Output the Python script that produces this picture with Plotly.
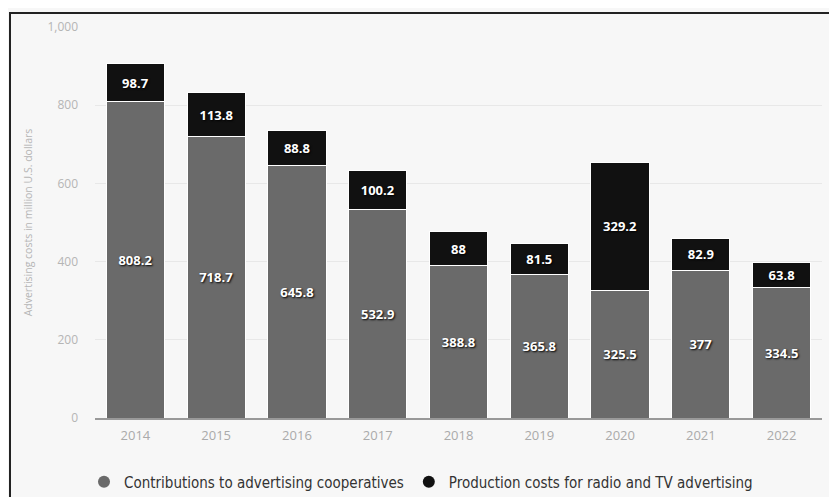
import plotly.graph_objects as go

years = ["2014", "2015", "2016", "2017", "2018", "2019", "2020", "2021", "2022"]
contributions = [808.2, 718.7, 645.8, 532.9, 388.8, 365.8, 325.5, 377, 334.5]
production = [98.7, 113.8, 88.8, 100.2, 88, 81.5, 329.2, 82.9, 63.8]
series_names = ["Contributions to advertising cooperatives", "Production costs for radio and TV advertising"]
y_ticks = [0, 200, 400, 600, 800, 1000]
y_tick_labels = ["0", "200", "400", "600", "800", "1,000"]

GRAY = "#6a6a6a"
BLACK = "#111111"

# page body has an 8px margin; figure sized to fill the rest of the window
OFF = 8
W, H = 837 - OFF, 497 - OFF
L, R, T, B = 95 - OFF, 15, 27 - OFF, 79
pw, ph = W - L - R, H - T - B


def px_x(wx):
    return (wx - OFF - L) / pw


def px_y(wy):
    return (H - B - (wy - OFF)) / ph


label_font = dict(color="white", size=13, family="Open Sans", weight="bold",
                  shadow="1px 1px 2px #000")

fig = go.Figure()
for name, vals, col in [(series_names[0], contributions, GRAY), (series_names[1], production, BLACK)]:
    fig.add_trace(go.Bar(
        x=years, y=vals, name=name, marker=dict(color=col, line=dict(color="white", width=1)),
        text=[f"{v:g}" for v in vals], textposition="inside", insidetextanchor="middle",
        textangle=0, textfont=label_font, constraintext="none", showlegend=False,
        hoverinfo="skip"))
    fig.add_trace(go.Scatter(
        x=[None], y=[None], mode="markers", name=name,
        marker=dict(color=col, size=12, symbol="circle"), showlegend=True))

# frame around the image
fig.add_shape(type="rect", xref="paper", yref="paper",
              x0=px_x(10), x1=px_x(850),
              y0=px_y(520), y1=px_y(13),
              line=dict(color="#222", width=2), fillcolor="rgba(0,0,0,0)", layer="above")

fig.update_layout(
    width=W, height=H, barmode="stack", bargap=0.28,
    margin=dict(l=L, r=R, t=T, b=B, autoexpand=False),
    paper_bgcolor="#f7f7f7", plot_bgcolor="#f7f7f7",
    font=dict(family="Open Sans", color="#999"),
    xaxis=dict(showline=True, linecolor="#999", linewidth=1.5, ticks="",
               tickfont=dict(size=13, color="#aaa"), showgrid=False,
               automargin=False, ticklabelstandoff=5),
    yaxis=dict(range=[0, 1000], tickvals=y_ticks, ticktext=y_tick_labels,
               tickfont=dict(size=12, color="#b5b5b5"), gridcolor="#e8e8e8",
               zeroline=False, ticklabelstandoff=16, automargin=False,
               title=dict(text="Advertising costs in million U.S. dollars",
                          font=dict(size=10.5, color="#b5b5b5"), standoff=12)),
    legend=dict(orientation="h", x=px_x(84), xanchor="left",
                y=px_y(482), yanchor="middle",
                font=dict(family="DejaVu Sans Condensed, Open Sans", size=15, color="#333"),
                itemsizing="constant", bgcolor="rgba(0,0,0,0)", traceorder="normal",
                itemwidth=30),
)

fig.write_html("out.html")
